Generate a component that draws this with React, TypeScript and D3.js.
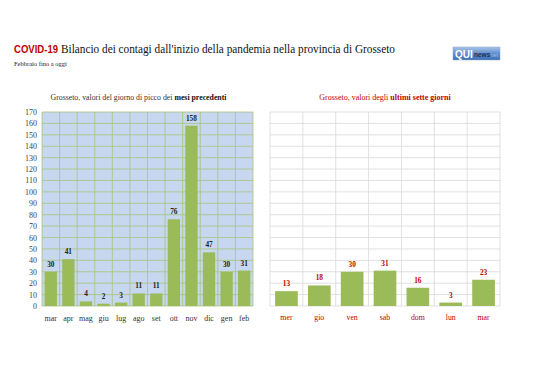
import React from "react";
import * as d3 from "d3";

const monthCats = ["mar", "apr", "mag", "giu", "lug", "ago", "set", "ott", "nov", "dic", "gen", "feb"];
const monthVals = [30, 41, 4, 2, 3, 11, 11, 76, 158, 47, 30, 31];
const dayCats = ["mer", "gio", "ven", "sab", "dom", "lun", "mar"];
const dayVals = [13, 18, 30, 31, 16, 3, 23];
const yTicks = d3.range(0, 171, 10);

const W = 538, H = 380;
const SERIF = "Liberation Serif, DejaVu Serif, serif";
const SANS = "Liberation Sans, Arial, sans-serif";
const GREEN = "#9bbb59";
const RED = "#c00000";

const top = 112, bottom = 306;
const y = d3.scaleLinear().domain([0, 170]).range([bottom, top]);

const serif = (size: number, extra: any = {}) => ({ fontFamily: SERIF, fontSize: size + "px", ...extra });

export default function App() {
  const xL = d3.scaleBand().domain(monthCats).range([42, 253]);
  const xR = d3.scaleBand().domain(dayCats).range([270, 500]);
  const bwL = xL.bandwidth() * 0.7;
  const bwR = xR.bandwidth() * 0.69;
  return (
    <svg width={W} height={H} style={{ position: "absolute", left: 0, top: 0, background: "#fff" }}>
      <defs>
        <linearGradient id="lg" x1="0" y1="0" x2="0" y2="1">
          <stop offset="0" stopColor="#a9c3e6" />
          <stop offset="0.5" stopColor="#5f8fcf" />
          <stop offset="1" stopColor="#3c6fb5" />
        </linearGradient>
      </defs>
      {/* Title */}
      <text x={14} y={53} style={{ fontFamily: SANS, fontWeight: "bold", fontSize: "10px" }} fill={RED} textLength={44} lengthAdjust="spacingAndGlyphs">COVID-19</text>
      <text x={61} y={53} style={serif(12.5)} fill="#111" textLength={334} lengthAdjust="spacingAndGlyphs">Bilancio dei contagi dall'inizio della pandemia nella provincia di Grosseto</text>
      <text x={14} y={66} style={serif(6.5)} fill="#222">Febbraio fino a oggi</text>
      {/* Logo */}
      <rect x={453} y={47} width={47} height={13} fill="url(#lg)" stroke="#8aa6cc" strokeWidth={0.5} />
      <text x={455} y={57.5} style={{ fontFamily: SANS, fontWeight: "bold", fontSize: "10px" }} fill="#fff">QUI</text>
      <text x={474} y={56.5} style={{ fontFamily: SANS, fontWeight: "bold", fontSize: "6.5px" }} fill="#1d2f55">news</text>
      <text x={491} y={56.5} style={{ fontFamily: SANS, fontSize: "5px" }} fill="#9fbbe0">net</text>

      {/* Left chart */}
      <text x={138.5} y={100} textAnchor="middle" style={serif(7.8)} fill="#333">
        Grosseto, valori del giorno di picco dei <tspan fontWeight="bold" fill="#111">mesi precedenti</tspan>
      </text>
      <rect x={42} y={top} width={211} height={bottom - top} fill="#c6d7ef" />
      {yTicks.map(t => (
        <line key={"gl" + t} x1={42} x2={253} y1={y(t)} y2={y(t)} stroke="#a8c47a" strokeWidth={0.8} />
      ))}
      {monthCats.map(c => (
        <line key={"vl" + c} x1={xL(c)!} x2={xL(c)!} y1={top} y2={bottom} stroke="#a8c47a" strokeWidth={0.8} />
      ))}
      <line x1={253} x2={253} y1={top} y2={bottom} stroke="#a8c47a" strokeWidth={0.8} />
      {yTicks.map(t => (
        <text key={"yt" + t} x={37} y={y(t) + 3} textAnchor="end" style={serif(8)} fill="#444">{t}</text>
      ))}
      {monthCats.map((c, i) => {
        const cx = xL(c)! + xL.bandwidth() / 2;
        return (
          <g key={"b" + c}>
            <rect x={cx - bwL / 2} y={y(monthVals[i])} width={bwL} height={bottom - y(monthVals[i])} fill={GREEN} />
            <text x={cx} y={y(monthVals[i]) - 5} textAnchor="middle" style={serif(7.3, { fontWeight: "bold" })} fill="#222">{monthVals[i]}</text>
            <text x={cx} y={321} textAnchor="middle" style={serif(8)} fill="#333">{c}</text>
          </g>
        );
      })}

      {/* Right chart */}
      <text x={385} y={100} textAnchor="middle" style={serif(8)} fill={RED}>
        Grosseto, valori degli <tspan fontWeight="bold">ultimi sette giorni</tspan>
      </text>
      {yTicks.map(t => (
        <line key={"rgl" + t} x1={270} x2={500} y1={y(t)} y2={y(t)} stroke="#d9d9d9" strokeWidth={0.8} />
      ))}
      {dayCats.map(c => (
        <line key={"rvl" + c} x1={xR(c)!} x2={xR(c)!} y1={top} y2={bottom} stroke="#d9d9d9" strokeWidth={0.8} />
      ))}
      <line x1={500} x2={500} y1={top} y2={bottom} stroke="#d9d9d9" strokeWidth={0.8} />
      {dayCats.map((c, i) => {
        const cx = xR(c)! + xR.bandwidth() / 2;
        return (
          <g key={"rb" + c}>
            <rect x={cx - bwR / 2} y={y(dayVals[i])} width={bwR} height={bottom - y(dayVals[i])} fill={GREEN} />
            <text x={cx} y={y(dayVals[i]) - 5} textAnchor="middle" style={serif(7.3, { fontWeight: "bold" })} fill={RED}>{dayVals[i]}</text>
            <text x={cx} y={320} textAnchor="middle" style={serif(7.8)} fill={RED}>{c}</text>
          </g>
        );
      })}
    </svg>
  );
}
